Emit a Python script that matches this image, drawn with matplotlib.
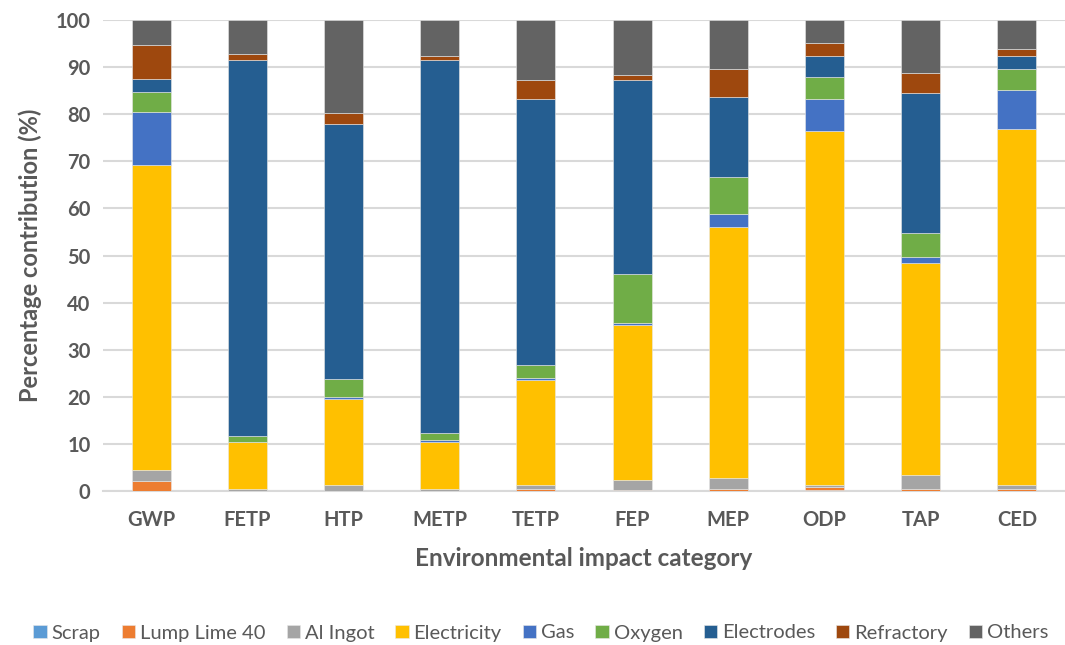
import matplotlib
matplotlib.use("Agg")
import matplotlib.pyplot as plt
import numpy as np

categories = ["GWP", "FETP", "HTP", "METP", "TETP", "FEP", "MEP", "ODP", "TAP", "CED"]
series_names = ["Scrap", "Lump Lime 40", "Al Ingot", "Electricity", "Gas", "Oxygen",
                "Electrodes", "Refractory", "Others"]

scrap       = [0.1, 0.0, 0.0, 0.0, 0.0, 0.0, 0.1, 0.15, 0.05, 0.05]
lump_lime   = [2.1, 0.05, 0.1, 0.05, 0.4, 0.15, 0.3, 0.65, 0.35, 0.35]
al_ingot    = [2.3, 0.4, 1.2, 0.4, 0.9, 2.15, 2.3, 0.4, 3.1, 0.8]
electricity = [64.7, 9.9, 18.3, 9.9, 22.3, 32.9, 53.4, 75.3, 45.0, 75.7]
gas         = [11.3, 0.1, 0.4, 0.5, 0.4, 0.5, 2.7, 6.8, 1.2, 8.2]
oxygen      = [4.2, 1.3, 3.8, 1.4, 2.75, 10.4, 7.8, 4.5, 5.0, 4.5]
electrodes  = [2.7, 79.7, 54.1, 79.2, 56.5, 41.2, 17.1, 4.5, 29.9, 2.7]
refractory  = [7.2, 1.4, 2.3, 1.0, 4.1, 1.1, 5.9, 2.8, 4.1, 1.6]
others      = [5.4, 7.2, 19.9, 7.6, 12.6, 11.6, 10.4, 4.9, 11.3, 6.1]

colors = ["#5B9BD5", "#ED7D31", "#A5A5A5", "#FFC000", "#4472C4", "#70AD47",
          "#255E91", "#9E480E", "#636363"]

series = [scrap, lump_lime, al_ingot, electricity, gas, oxygen, electrodes, refractory, others]

plt.rcParams['font.family'] = ['Lato', 'DejaVu Sans']
text_col = "#595959"

fig = plt.figure(figsize=(10.65, 6.45), dpi=100)
ax = fig.add_axes([103/1065, 1 - 491/645, (1065 - 103)/1065, (491 - 20)/645])

x = np.arange(len(categories))
bottom = np.zeros(len(categories))
for name, vals, c in zip(series_names, series, colors):
    v = np.array(vals)
    ax.bar(x, v, bottom=bottom, width=0.405, color=c, label=name,
           edgecolor="#E8E8E8", linewidth=0.4, zorder=3)
    bottom += v

ax.set_xlim(-0.5, len(categories) - 0.5)
ax.set_ylim(0, 100)
ax.set_yticks(np.arange(0, 101, 10))
ax.yaxis.grid(True, color="#D9D9D9", linewidth=1.5, zorder=0)
ax.set_axisbelow(True)
for s in ["top", "right", "left"]:
    ax.spines[s].set_visible(False)
ax.spines["bottom"].set_color("#D9D9D9")
ax.spines["bottom"].set_linewidth(1.5)
ax.tick_params(axis="both", length=0, labelsize=14.5, labelcolor=text_col, pad=9)
ax.set_xticks(x)
ax.set_xticklabels(categories, fontweight="bold")
for lab in ax.get_yticklabels():
    lab.set_fontweight("bold")
ax.tick_params(axis="x", pad=14)

ax.set_xlabel("Environmental impact category", fontsize=17.5, fontweight="bold",
              color=text_col, labelpad=12)
ax.set_ylabel("Percentage contribution (%)", fontsize=17, fontweight="bold",
              color=text_col, labelpad=10)

handles, labels = ax.get_legend_handles_labels()
leg = fig.legend(handles, labels, loc="center", bbox_to_anchor=(0.508, 1 - 633/645),
                 ncol=9, frameon=False, fontsize=14.5, handlelength=0.65,
                 handleheight=0.65, handletextpad=0.25, columnspacing=1.05)
for t in leg.get_texts():
    t.set_color(text_col)

fig.savefig("out.png", dpi=100)
